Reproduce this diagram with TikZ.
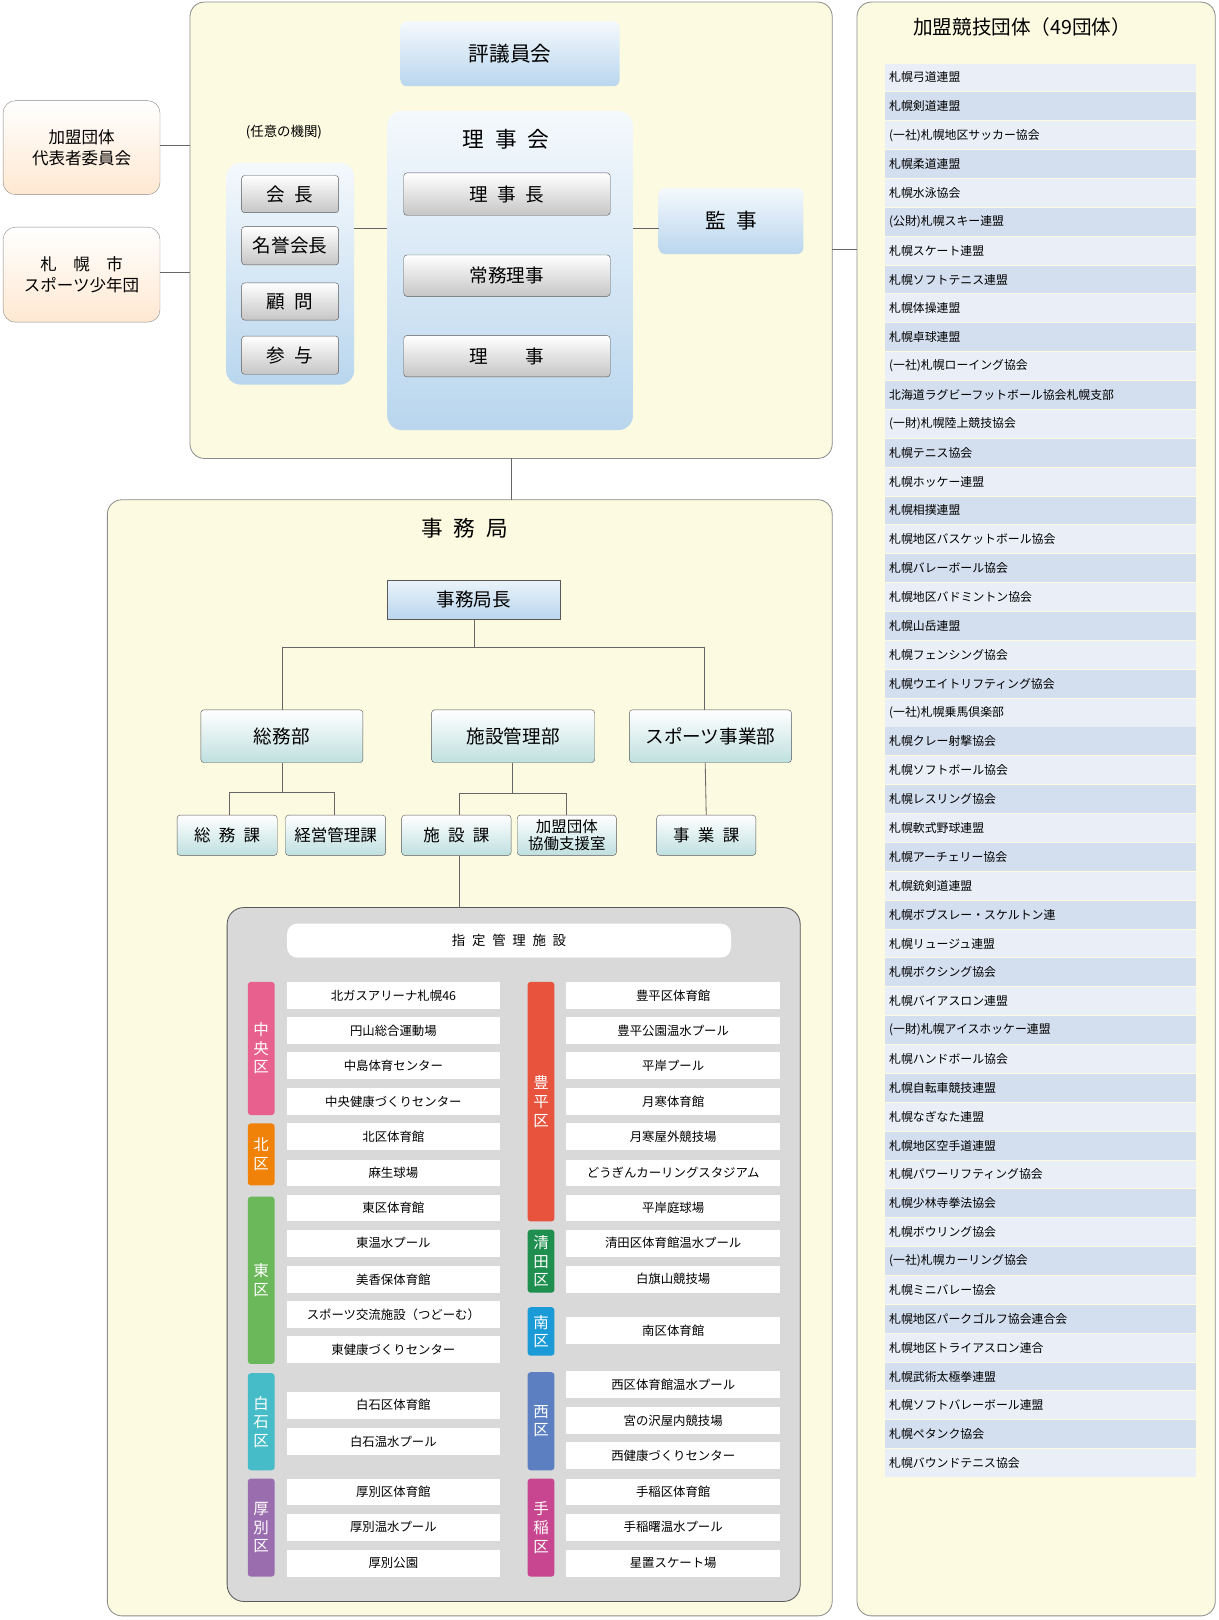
\documentclass[tikz,border=0pt]{standalone}
\usepackage{fontspec}
\setmainfont{Noto Sans CJK JP}
\usetikzlibrary{positioning}
\definecolor{paper}{HTML}{FCFAE0}
\definecolor{frameline}{HTML}{8C8C8C}
\definecolor{rowA}{HTML}{E9EEF7}
\definecolor{rowB}{HTML}{D3DEEE}
\definecolor{skyblue}{HTML}{B9D6EE}
\tikzset{
  panel/.style={draw=frameline, fill=paper, rounded corners=14pt, line width=0.8pt},
  bluebox/.style={draw=none, rounded corners=6pt, top color=skyblue!15, bottom color=skyblue, inner sep=0pt},
  graybtn/.style={draw=gray!70!black, rounded corners=3pt, top color=white, bottom color=gray!45, inner sep=0pt, font=\fontsize{18}{20}\selectfont},
  orangebox/.style={draw=frameline, rounded corners=12pt, top color=white, bottom color=orange!18, inner sep=0pt, align=center, font=\fontsize{16}{21}\selectfont},
  tealbox/.style={draw=gray!70!black, rounded corners=3pt, top color=white, bottom color=teal!25, inner sep=0pt, align=center},
  conn/.style={draw=gray!80!black, line width=0.8pt},
  facbox/.style={fill=white, minimum width=207pt, minimum height=26pt, inner sep=0pt, font=\fontsize{12}{12}\selectfont},
  ward/.style={rounded corners=3pt, text=white, minimum width=26pt, inner sep=0pt, align=center, font=\fontsize{15}{18}\selectfont},
  listrow/.style={minimum width=301pt, minimum height=27pt, inner sep=0pt, anchor=west, text width=293pt, font=\fontsize{11.5}{12}\selectfont}
}
\begin{document}
\begin{tikzpicture}[x=1pt,y=-1pt]
\useasboundingbox (0,0) rectangle (1180,1569);
% upper frame
\draw[panel] (184,2) rectangle (806,444);
\draw[panel] (830,2) rectangle (1177,1565);
\draw[panel] (104,484) rectangle (806,1565);

% member bodies
\node[font=\fontsize{19}{20}\selectfont] (kameiT) at (990,26) {加盟競技団体（49団体）};
\foreach \name [count=\i] in {札幌弓道連盟,札幌剣道連盟,(一社)札幌地区サッカー協会,札幌柔道連盟,札幌水泳協会,(公財)札幌スキー連盟,札幌スケート連盟,札幌ソフトテニス連盟,札幌体操連盟,札幌卓球連盟,(一社)札幌ローイング協会,北海道ラグビーフットボール協会札幌支部,(一財)札幌陸上競技協会,札幌テニス協会,札幌ホッケー連盟,札幌相撲連盟,札幌地区バスケットボール協会,札幌バレーボール協会,札幌地区バドミントン協会,札幌山岳連盟,札幌フェンシング協会,札幌ウエイトリフティング協会,(一社)札幌乗馬倶楽部,札幌クレー射撃協会,札幌ソフトボール協会,札幌レスリング協会,札幌軟式野球連盟,札幌アーチェリー協会,札幌銃剣道連盟,札幌ボブスレー・スケルトン連,札幌リュージュ連盟,札幌ボクシング協会,札幌バイアスロン連盟,(一財)札幌アイスホッケー連盟,札幌ハンドボール協会,札幌自転車競技連盟,札幌なぎなた連盟,札幌地区空手道連盟,札幌パワーリフティング協会,札幌少林寺拳法協会,札幌ボウリング協会,(一社)札幌カーリング協会,札幌ミニバレー協会,札幌地区パークゴルフ協会連合会,札幌地区トライアスロン連合,札幌武術太極拳連盟,札幌ソフトバレーボール連盟,札幌ペタンク協会,札幌バウンドテニス協会}{
  \pgfmathsetmacro{\rowy}{75+27.96*(\i-1)}
  \ifodd\i \def\rowcol{rowA}\else \def\rowcol{rowB}\fi
  \node[listrow, fill=\rowcol] (club\i) at (857,\rowy) {\name};
}

% left committees
\node[orangebox, minimum width=152pt, minimum height=91pt] (daihyo) at (79,143) {加盟団体\\代表者委員会};
\node[orangebox, minimum width=152pt, minimum height=92pt] (shonen) at (79,266) {札\quad 幌\quad 市\\スポーツ少年団};
\coordinate (daihyoE) at (184,141);
\coordinate (shonenE) at (184,264);
\draw[conn] (daihyo.east |- daihyoE) -- (daihyoE);
\draw[conn] (shonen.east |- shonenE) -- (shonenE);

% council
\node[bluebox, minimum width=212pt, minimum height=63pt, font=\fontsize{20}{20}\selectfont] (hyogi) at (494,52) {評議員会};
\node[font=\fontsize{13}{13}\selectfont] (nini) at (275,128) {(任意の機関)};
\node[bluebox, minimum width=124pt, minimum height=215pt, rounded corners=14pt] (ninibox) at (281,265) {};
\node[graybtn, minimum width=94pt, minimum height=36pt] (kaicho) at (281,188) {会\enspace 長};
\node[graybtn, minimum width=94pt, minimum height=37pt] (meiyo) at (281,238) {名誉会長};
\node[graybtn, minimum width=94pt, minimum height=36pt] (komon) at (281,292) {顧\enspace 問};
\node[graybtn, minimum width=94pt, minimum height=37pt] (sanyo) at (281,344) {参\enspace 与};
\node[bluebox, minimum width=238pt, minimum height=309pt, rounded corners=14pt] (rijikai) at (494,262) {};
\node[font=\fontsize{21}{21}\selectfont] (rijikaiT) at (490,135) {理\enspace 事\enspace 会};
\node[graybtn, minimum width=200pt, minimum height=41pt] (rijicho) at (491,188) {理\enspace 事\enspace 長};
\node[graybtn, minimum width=200pt, minimum height=40pt] (jomu) at (491,267) {常務理事};
\node[graybtn, minimum width=200pt, minimum height=40pt] (riji) at (491,345) {理\qquad 事};
\node[bluebox, minimum width=140pt, minimum height=64pt, font=\fontsize{20}{20}\selectfont] (kanji) at (708,214) {監\enspace 事};
\draw[conn] (ninibox.east |- 0,221) -- (rijikai.west |- 0,221);
\draw[conn] (rijikai.east |- 0,221) -- (kanji.west |- 0,221);
\coordinate (topR) at (806,242);
\coordinate (clubL) at (830,242);
\draw[conn] (topR) -- (clubL);
\coordinate (topB) at (495,444);
\coordinate (jimuT) at (495,484);
\draw[conn] (topB) -- (jimuT);

% secretariat
\node[font=\fontsize{21}{21}\selectfont] (jimuTitle) at (450,512) {事\enspace 務\enspace 局};
\node[draw=gray!70!black, top color=skyblue!30, bottom color=skyblue, minimum width=168pt, minimum height=38pt, inner sep=0pt, font=\fontsize{18}{18}\selectfont] (kyokucho) at (459,581) {事務局長};
\node[tealbox, minimum width=157pt, minimum height=51pt, font=\fontsize{18}{18}\selectfont] (somubu) at (273,713) {総務部};
\node[tealbox, minimum width=158pt, minimum height=51pt, font=\fontsize{18}{18}\selectfont] (shisetsubu) at (497,713) {施設管理部};
\node[tealbox, minimum width=157pt, minimum height=51pt, font=\fontsize{18}{18}\selectfont] (sportsbu) at (688,713) {スポーツ事業部};
\node[tealbox, minimum width=97pt, minimum height=39pt, font=\fontsize{16}{16}\selectfont] (somuka) at (220,809) {総\enspace 務\enspace 課};
\node[tealbox, minimum width=97pt, minimum height=39pt, font=\fontsize{16}{16}\selectfont] (keiei) at (325,809) {経営管理課};
\node[tealbox, minimum width=106pt, minimum height=39pt, font=\fontsize{16}{16}\selectfont] (shisetsuka) at (442,809) {施\enspace 設\enspace 課};
\node[tealbox, minimum width=96pt, minimum height=39pt, font=\fontsize{15}{17}\selectfont] (kyodo) at (549,809) {加盟団体\\協働支援室};
\node[tealbox, minimum width=96pt, minimum height=39pt, font=\fontsize{16}{16}\selectfont] (jigyoka) at (684,809) {事\enspace 業\enspace 課};
\draw[conn] (kyokucho.south) -- ++(0,27) coordinate (hub);
\draw[conn] (somubu.north -| 274,0) |- (hub) -| (sportsbu.north -| 682,0);
\draw[conn] (shisetsubu.north -| 496,0) -- (shisetsubu.north -| 496,627);
\draw[conn] (somubu.south -| 274,0) -- ++(0,29) coordinate (somuhub);
\draw[conn] (somuka.north -| 222,0) |- (somuhub) -| (keiei.north -| 324,0);
\draw[conn] (shisetsubu.south -| 496,0) -- ++(0,30) coordinate (shisetsuhub);
\draw[conn] (shisetsuka.north -| 445,0) |- (shisetsuhub) -| (kyodo.north -| 549,0);
\draw[conn] (sportsbu.south -| 683,0) -- (jigyoka.north);

% managed facilities
\draw[draw=gray!70!black, fill=gray!30, rounded corners=16pt, line width=0.8pt] (220,879) rectangle (775,1551);
\node[fill=white, rounded corners=10pt, minimum width=430pt, minimum height=33pt, inner sep=0pt, font=\fontsize{13}{13}\selectfont] (shitei) at (493,911) {指\enspace 定\enspace 管\enspace 理\enspace 施\enspace 設};
\draw[conn] (shisetsuka.south -| 445,0) -- (445,879);
\foreach \y/\name [count=\i] in {964/北ガスアリーナ札幌46,998/円山総合運動場,1032/中島体育センター,1067/中央健康づくりセンター,1101/北区体育館,1136/麻生球場,1170/東区体育館,1204/東温水プール,1239/美香保体育館,1273/スポーツ交流施設（つどーむ）,1307/東健康づくりセンター,1361/白石区体育館,1396/白石温水プール,1445/厚別区体育館,1479/厚別温水プール,1514/厚別公園}
  \node[facbox] (facL\i) at (381,\y) {\name};
\foreach \y/\name [count=\i] in {964/豊平区体育館,998/豊平公園温水プール,1032/平岸プール,1067/月寒体育館,1101/月寒屋外競技場,1136/どうぎんカーリングスタジアム,1170/平岸庭球場,1204/清田区体育館温水プール,1239/白旗山競技場,1289/南区体育館,1341/西区体育館温水プール,1376/宮の沢屋内競技場,1410/西健康づくりセンター,1445/手稲区体育館,1479/手稲曙温水プール,1514/星置スケート場}
  \node[facbox] (facR\i) at (652,\y) {\name};
\foreach \x/\ya/\yb/\col/\name in {
  253/951/1080/E8608E/中\\央\\区, 253/1088/1148/F0820A/北\\区, 253/1159/1321/6BB85A/東\\区,
  253/1330/1424/45BCC8/白\\石\\区, 253/1432/1527/9A6DAE/厚\\別\\区,
  524/951/1183/E8533E/豊\\平\\区, 524/1191/1252/1E8F4E/清\\田\\区, 524/1266/1313/1A9AD6/南\\区,
  524/1329/1424/5B7FC0/西\\区, 524/1432/1527/C7468F/手\\稲\\区}{
  \definecolor{wardcol}{HTML}{\col}
  \pgfmathsetmacro{\wh}{\yb-\ya}
  \node[ward, fill=wardcol, minimum height=\wh pt] at (\x,{(\ya+\yb)/2}) {\name};
}
\end{tikzpicture}
\end{document}
